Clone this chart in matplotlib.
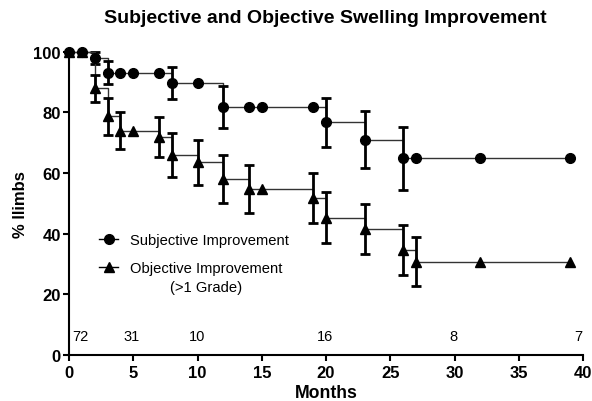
import numpy as np
import matplotlib
matplotlib.use('Agg')
import matplotlib.pyplot as plt

plt.rcParams['font.family'] = ['Liberation Sans', 'DejaVu Sans']

# months where a point is drawn (events and censored limbs)
subj_months = [0, 1, 2, 3, 4, 5, 7, 8, 10, 12, 14, 15, 19, 20, 23, 26, 27, 32, 39]
subj_pct = [100, 100, 98, 93, 93, 93, 93, 89.7, 89.7, 81.8, 81.8, 81.8, 81.8,
            76.7, 71, 64.8, 64.8, 64.8, 64.8]
subj_err = [np.nan, np.nan, 2, 3.8, np.nan, np.nan, np.nan, 5.2, np.nan, 7, np.nan,
            np.nan, np.nan, 8.1, 9.5, 10.3, np.nan, np.nan, np.nan]

obj_months = [0, 1, 2, 3, 4, 5, 7, 8, 10, 12, 14, 15, 19, 20, 23, 26, 27, 32, 39]
obj_pct = [100, 100, 87.9, 78.7, 74, 74, 71.8, 66, 63.5, 58, 54.7, 54.7, 51.8,
           45.2, 41.5, 34.7, 30.8, 30.8, 30.8]
obj_err = [np.nan, np.nan, 4.5, 6.1, 6.2, np.nan, 6.6, 7.2, 7.3, 7.9, 7.9, np.nan,
           8.2, 8.4, 8.3, 8.3, 8.1, np.nan, np.nan]

# numbers at risk written along the bottom
risk_months = [0.9, 4.9, 10, 19.9, 29.9, 39.6]
risk_labels = ['72', '31', '10', '16', '8', '7']

fig = plt.figure(figsize=(5.92, 4.02), dpi=100)
ax = fig.add_axes([69 / 592, 1 - 356 / 402, 514 / 592, (356 - 52.7) / 402])

for t, s, e, mk, lab in [(subj_months, subj_pct, subj_err, 'o', 'Subjective Improvement'),
                         (obj_months, obj_pct, obj_err, '^', 'Objective Improvement')]:
    ax.step(t, s, where='post', color='#333333', lw=1.0, clip_on=False)
    ax.errorbar(t, s, yerr=e, fmt='none', ecolor='black', elinewidth=2.0,
                capsize=3.5, capthick=2.0, clip_on=False)
    ax.plot(t, s, linestyle='none', marker=mk, color='black', markersize=7,
            clip_on=False, zorder=5)
    # legend handle only
    ax.plot([], [], color='black', lw=1.0, marker=mk, markersize=7, label=lab)

for x, lab in zip(risk_months, risk_labels):
    ax.text(x, 6.1, lab, ha='center', va='center', fontsize=10.5)

leg = ax.legend(loc='upper left', bbox_to_anchor=(0.059, 0.403), frameon=False,
                fontsize=10.6, handlelength=1.25, handletextpad=0.8,
                labelspacing=1.0, borderpad=0, borderaxespad=0)
ax.text(0.266, 0.225, '(>1 Grade)', transform=ax.transAxes, ha='center',
        va='center', fontsize=10.6)

ax.set_xlim(0, 40)
ax.set_ylim(0, 100)
ax.set_xticks(range(0, 41, 5))
ax.set_yticks(range(0, 101, 20))
for sp in ['top', 'right']:
    ax.spines[sp].set_visible(False)
for sp in ['left', 'bottom']:
    ax.spines[sp].set_linewidth(1.5)
ax.tick_params(direction='out', length=4, width=1.5, labelsize=12)
ax.tick_params(axis='x', pad=3)
ax.tick_params(axis='y', pad=2)
for lbl in ax.get_xticklabels() + ax.get_yticklabels():
    lbl.set_fontweight('bold')

ax.set_xlabel('Months', fontsize=12.7, fontweight='bold', labelpad=3)
ax.set_ylabel('% llimbs', fontsize=12, fontweight='bold', labelpad=4)
fig.text(0.549, 0.953, 'Subjective and Objective Swelling Improvement',
         ha='center', va='center', fontsize=14, fontweight='bold')

fig.savefig('out.png', dpi=100)
